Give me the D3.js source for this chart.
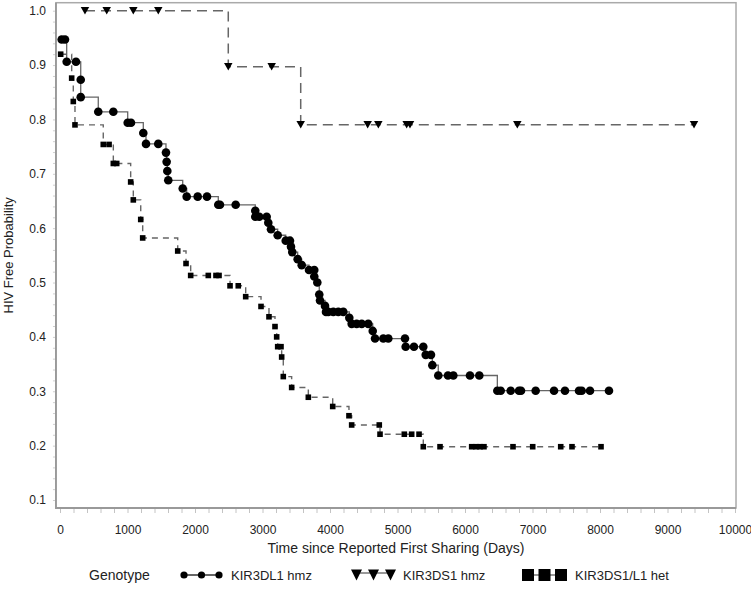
<!DOCTYPE html>
<html>
<head>
<meta charset="utf-8">
<script src="https://cdn.jsdelivr.net/npm/d3@7"></script>
<style>
  html, body { margin: 0; padding: 0; background: #fff; }
  svg { display: block; font-family: "Liberation Sans", Arial, sans-serif; }
</style>
</head>
<body>
<svg id="chart" width="751" height="606"></svg>
<script>
// ---------------- DATA ----------------
const seriesNames = ["KIR3DL1 hmz", "KIR3DS1 hmz", "KIR3DS1/L1 het"];
const legendTitle = "Genotype";
const xTitle = "Time since Reported First Sharing (Days)";
const yTitle = "HIV Free Probability";

const xTickLabels = [0, 1000, 2000, 3000, 4000, 5000, 6000, 7000, 8000, 9000, 10000];
const yTickLabels = [0.1, 0.2, 0.3, 0.4, 0.5, 0.6, 0.7, 0.8, 0.9, 1.0];

// KIR3DL1 hmz (circles, solid)
const dl1Time = [25, 74, 99, 237, 307, 307, 567, 790, 1003, 1052, 1234, 1274, 1456, 1570, 1580, 1590, 1604,
  1818, 1877, 2040, 2178, 2345, 2370, 2603, 2893, 2893, 2953, 3062, 3086, 3126, 3225, 3344, 3407, 3422, 3441,
  3521, 3581, 3689, 3767, 3767, 3812, 3841, 3852, 3926, 3941, 3975, 4049, 4123, 4197, 4286, 4321, 4395, 4470,
  4567, 4633, 4667, 4790, 4864, 5111, 5121, 5244, 5382, 5418, 5496, 5516, 5604, 5748, 5827, 6074, 6212,
  6479, 6529, 6677, 6800, 6830, 7047, 7319, 7481, 7689, 7729, 7852, 8133];
const dl1Surv = [0.947, 0.947, 0.906, 0.906, 0.873, 0.841, 0.814, 0.814, 0.794, 0.794, 0.775, 0.755, 0.755, 0.739, 0.722, 0.705, 0.688,
  0.673, 0.658, 0.658, 0.658, 0.643, 0.643, 0.643, 0.632, 0.621, 0.621, 0.621, 0.610, 0.598, 0.587, 0.577, 0.577, 0.566, 0.556,
  0.543, 0.532, 0.523, 0.523, 0.511, 0.500, 0.478, 0.467, 0.457, 0.446, 0.446, 0.446, 0.446, 0.446, 0.435, 0.424, 0.424, 0.424,
  0.424, 0.411, 0.397, 0.397, 0.397, 0.397, 0.382, 0.382, 0.382, 0.367, 0.367, 0.348, 0.329, 0.329, 0.329, 0.329, 0.329,
  0.301, 0.301, 0.301, 0.301, 0.301, 0.301, 0.301, 0.301, 0.301, 0.301, 0.301, 0.301];

// KIR3DS1 hmz (triangles, long dashes)
const ds1Time = [370, 692, 1086, 1456, 2493, 3136, 3566, 4558, 4716, 5136, 5185, 6775, 9393];
const ds1Surv = [1.0, 1.0, 1.0, 1.0, 0.897, 0.897, 0.790, 0.790, 0.790, 0.790, 0.790, 0.790, 0.790];

// KIR3DS1/L1 het (squares, short dashes)
const hetTime = [10, 173, 197, 222, 641, 727, 790, 840, 1047, 1086, 1196, 1225, 1744, 1867, 1936, 2197, 2311, 2356,
  2519, 2641, 2751, 2978, 3096, 3185, 3210, 3225, 3274, 3284, 3308, 3432, 3679, 4040, 4281, 4321, 4730, 4741,
  5101, 5210, 5319, 5382, 5630, 6099, 6163, 6222, 6281, 6711, 7003, 7418, 7585, 8015];
const hetSurv = [0.920, 0.876, 0.833, 0.790, 0.754, 0.754, 0.719, 0.719, 0.685, 0.652, 0.616, 0.582, 0.558, 0.535, 0.513, 0.513, 0.513, 0.513,
  0.494, 0.494, 0.474, 0.456, 0.437, 0.419, 0.400, 0.382, 0.382, 0.363, 0.327, 0.307, 0.289, 0.272, 0.255, 0.238, 0.238, 0.221,
  0.221, 0.221, 0.221, 0.198, 0.198, 0.198, 0.198, 0.198, 0.198, 0.198, 0.198, 0.198, 0.198, 0.198];

// ---------------- CHART ----------------
const svg = d3.select("#chart");
const x = d3.scaleLinear().domain([0, 10000]).range([60, 735]);
const y = d3.scaleLinear().domain([0.1, 1.0]).range([500, 10.7]);

const frameL = x(-60), frameR = x(10015), frameT = y(1.0147), frameB = y(0.0853);

// minor ticks x (every 200 days)
const xMinor = d3.range(0, 10001, 200);
svg.append("g")
  .attr("transform", `translate(0,${frameB})`)
  .call(d3.axisBottom(x).tickValues(xMinor).tickSize(5).tickFormat(""))
  .call(g => g.select(".domain").remove())
  .call(g => g.selectAll("line").attr("stroke", "#c4c4c4").attr("stroke-width", 1));

// x labels
svg.append("g")
  .attr("transform", `translate(0,${frameB})`)
  .call(d3.axisBottom(x).tickValues(xTickLabels).tickSize(0).tickPadding(0).tickFormat(d3.format("d")))
  .call(g => g.select(".domain").remove())
  .call(g => g.selectAll("text").attr("y", 26).attr("dy", 0).attr("font-size", 12).attr("fill", "#222")
    .attr("font-family", "Liberation Sans, Arial, sans-serif"));

// minor ticks y (every 0.02)
const yMinor = d3.range(0.1, 1.0001, 0.02);
svg.append("g")
  .attr("transform", `translate(${frameL},0)`)
  .call(d3.axisLeft(y).tickValues(yMinor).tickSize(3).tickFormat(""))
  .call(g => g.select(".domain").remove())
  .call(g => g.selectAll("line").attr("stroke", "#d0d0d0").attr("stroke-width", 1));

// y labels
svg.append("g")
  .attr("transform", `translate(${frameL},0)`)
  .call(d3.axisLeft(y).tickValues(yTickLabels).tickSize(0).tickPadding(10).tickFormat(d3.format(".1f")))
  .call(g => g.select(".domain").remove())
  .call(g => g.selectAll("text").attr("font-size", 12).attr("fill", "#222")
    .attr("font-family", "Liberation Sans, Arial, sans-serif"));

// frame
svg.append("rect")
  .attr("x", frameL).attr("y", frameT)
  .attr("width", frameR - frameL).attr("height", frameB - frameT)
  .attr("fill", "none").attr("stroke", "#aaa").attr("stroke-width", 1.5);
svg.append("path")
  .attr("d", `M${frameL},${frameT}V${frameB}H${frameR}`)
  .attr("fill", "none").attr("stroke", "#999").attr("stroke-width", 1.8);

// axis titles
svg.append("text")
  .attr("x", (frameL + frameR) / 2).attr("y", 553)
  .attr("text-anchor", "middle").attr("font-size", 14).attr("fill", "#222")
  .text(xTitle);
svg.append("text")
  .attr("transform", `translate(13,${(frameT + frameB) / 2}) rotate(-90)`)
  .attr("text-anchor", "middle").attr("font-size", 13).attr("fill", "#222")
  .text(yTitle);

// curves
const line = d3.line().curve(d3.curveStepAfter).x(d => x(d.t)).y(d => y(d.s));
const dl1 = dl1Time.map((t, i) => ({ t, s: dl1Surv[i] }));
const ds1 = ds1Time.map((t, i) => ({ t, s: ds1Surv[i] }));
const het = hetTime.map((t, i) => ({ t, s: hetSurv[i] }));

svg.append("path").datum(dl1).attr("d", line)
  .attr("fill", "none").attr("stroke", "#666").attr("stroke-width", 1.3);
svg.append("path").datum(het).attr("d", line)
  .attr("fill", "none").attr("stroke", "#666").attr("stroke-width", 1.4).attr("stroke-dasharray", "6,5");
svg.append("path").datum(ds1).attr("d", line)
  .attr("fill", "none").attr("stroke", "#666").attr("stroke-width", 1.5).attr("stroke-dasharray", "10,6");

const tri = (w, h) => `M${-w / 2},${-h / 2}L${w / 2},${-h / 2}L0,${h / 2}Z`;

svg.append("g").selectAll("circle").data(dl1).join("circle")
  .attr("cx", d => x(d.t)).attr("cy", d => y(d.s)).attr("r", 4.3).attr("fill", "#000");
svg.append("g").selectAll("rect").data(het).join("rect")
  .attr("x", d => x(d.t) - 2.8).attr("y", d => y(d.s) - 2.8)
  .attr("width", 5.6).attr("height", 5.6).attr("fill", "#000");
svg.append("g").selectAll("path").data(ds1).join("path")
  .attr("transform", d => `translate(${x(d.t)},${y(d.s)})`)
  .attr("d", tri(8.5, 7.5)).attr("fill", "#000");

// legend
const ly = 575;
const lg = svg.append("g").attr("font-size", 13).attr("fill", "#222");
lg.append("text").attr("x", 89).attr("y", ly + 5).attr("font-size", 14).text(legendTitle);

// circles entry
const cX = [184, 201.5, 219];
lg.append("line").attr("x1", cX[0]).attr("x2", cX[2]).attr("y1", ly).attr("y2", ly)
  .attr("stroke", "#333").attr("stroke-width", 1.3);
lg.selectAll("circle").data(cX).join("circle")
  .attr("cx", d => d).attr("cy", ly).attr("r", 3.6).attr("fill", "#000");
lg.append("text").attr("x", 231).attr("y", ly + 5).text(seriesNames[0]);

// triangles entry
const tX = [356.5, 373.5, 390.5];
lg.append("line").attr("x1", tX[0]).attr("x2", tX[2]).attr("y1", ly - 2).attr("y2", ly - 2)
  .attr("stroke", "#333").attr("stroke-width", 1.2);
lg.selectAll("path.t").data(tX).join("path").attr("class", "t")
  .attr("transform", d => `translate(${d},${ly})`)
  .attr("d", tri(11, 11)).attr("fill", "#000");
lg.append("text").attr("x", 403).attr("y", ly + 5).text(seriesNames[1]);

// squares entry
const sX = [528, 544.5, 561];
lg.append("line").attr("x1", sX[0]).attr("x2", sX[2]).attr("y1", ly).attr("y2", ly)
  .attr("stroke", "#333").attr("stroke-width", 1.2);
lg.selectAll("rect").data(sX).join("rect")
  .attr("x", d => d - 6).attr("y", ly - 6).attr("width", 12).attr("height", 12).attr("fill", "#000");
lg.append("text").attr("x", 575).attr("y", ly + 5).text(seriesNames[2]);
</script>
</body>
</html>
